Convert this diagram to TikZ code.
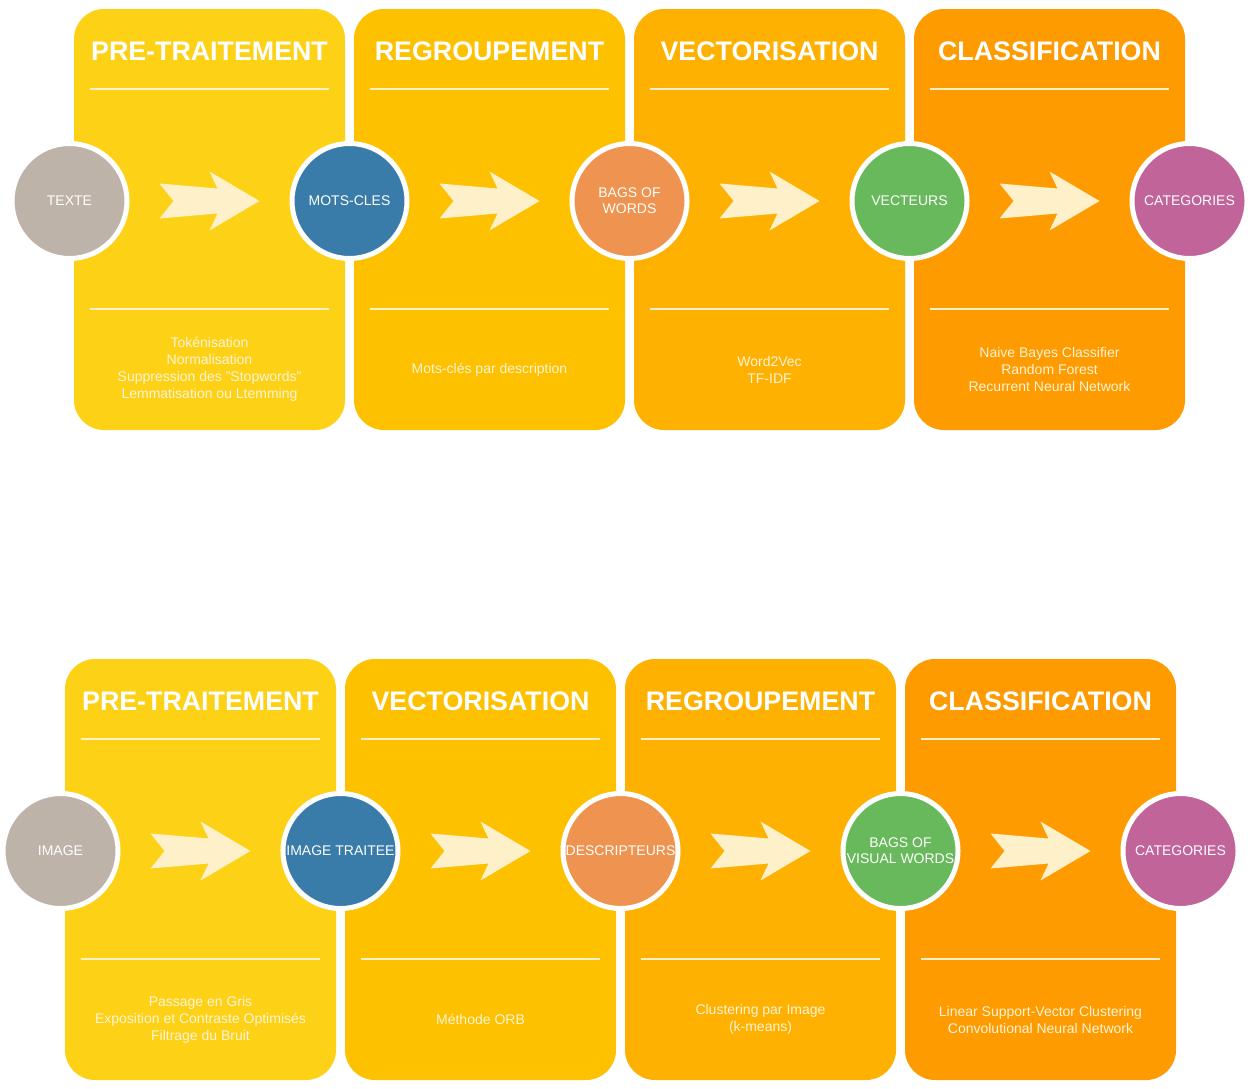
\documentclass[tikz,border=0pt]{standalone}
\usepackage{fontspec}
\setmainfont{Liberation Sans}
\usetikzlibrary{calc}
\definecolor{pA}{HTML}{FDD116}
\definecolor{pB}{HTML}{FDC100}
\definecolor{pC}{HTML}{FEB100}
\definecolor{pD}{HTML}{FE9B00}
\definecolor{cGris}{HTML}{BEB3A9}
\definecolor{cBleu}{HTML}{3A7CA9}
\definecolor{cOrange}{HTML}{EE9450}
\definecolor{cVert}{HTML}{68B95C}
\definecolor{cViolet}{HTML}{C0649A}
\definecolor{creme}{HTML}{FEF1C9}
\definecolor{texteclair}{HTML}{FFF4D8}
\begin{document}
\begin{tikzpicture}[x=1pt,y=-1pt,
  panel/.style={rectangle, rounded corners=30pt, minimum width=271pt,
    minimum height=421pt, inner sep=0pt, outer sep=0pt},
  titre/.style={text=white, font=\fontsize{26.8}{30}\selectfont\bfseries, inner sep=0pt},
  rond/.style={circle, draw=white, line width=5pt, minimum size=115pt,
    inner sep=0pt, text=white, font=\fontsize{14}{16}\selectfont, align=center},
  detail/.style={text=texteclair, font=\fontsize{14}{17}\selectfont,
    align=center, inner sep=0pt},
  trait/.style={draw=creme, line width=2pt},
  fleche/.pic={\fill[creme] (-50,-17.5) -- (-36,0) -- (-50,17.5) -- (8,12.5)
    -- (0,29.5) -- (50,0) -- (0,-29.5) -- (8,-12.5) -- cycle;}
]
\useasboundingbox (0,0) rectangle (1250,1088);

% ---------- text pipeline ----------
\node[panel, fill=pA] (h1) at (209.5,219.5) {};
\node[panel, fill=pB] (h2) at (489.5,219.5) {};
\node[panel, fill=pC] (h3) at (769.5,219.5) {};
\node[panel, fill=pD] (h4) at (1049.5,219.5) {};

\node[titre] (ht1) at (209.5,51.5) {PRE-TRAITEMENT};
\node[titre] (ht2) at (489.5,51.5) {REGROUPEMENT};
\node[titre] (ht3) at (769.5,51.5) {VECTORISATION};
\node[titre] (ht4) at (1049.5,51.5) {CLASSIFICATION};

\foreach \c in {209.5,489.5,769.5,1049.5}{
  \draw[trait] (\c-119.5,89) -- (\c+119.5,89);
  \draw[trait] (\c-119.5,309) -- (\c+119.5,309);
}

\node[detail] (hd1) at (209.5,369.5) {Tokénisation\\Normalisation\\Suppression des "Stopwords"\\Lemmatisation ou Ltemming};
\node[detail] (hd2) at (489.5,369.5) {Mots-clés par description};
\node[detail] (hd3) at (769.5,369.5) {Word2Vec\\TF-IDF};
\node[detail] (hd4) at (1049.5,369.5) {Naive Bayes Classifier\\Random Forest\\Recurrent Neural Network};

\node[rond, fill=cGris]   (a0) at (69.5,201)   {TEXTE};
\node[rond, fill=cBleu]   (a1) at (349.5,201)  {MOTS-CLES};
\node[rond, fill=cOrange] (a2) at (629.5,201)  {BAGS OF\\WORDS};
\node[rond, fill=cVert]   (a3) at (909.5,201)  {VECTEURS};
\node[rond, fill=cViolet] (a4) at (1189.5,201) {CATEGORIES};

\pic at ($(a0)!0.5!(a1)$) {fleche};
\pic at ($(a1)!0.5!(a2)$) {fleche};
\pic at ($(a2)!0.5!(a3)$) {fleche};
\pic at ($(a3)!0.5!(a4)$) {fleche};

% ---------- image pipeline ----------
\node[panel, fill=pA] (b1) at (200.5,869.5) {};
\node[panel, fill=pB] (b2) at (480.5,869.5) {};
\node[panel, fill=pC] (b3) at (760.5,869.5) {};
\node[panel, fill=pD] (b4) at (1040.5,869.5) {};

\node[titre] (bt1) at (200.5,701.5) {PRE-TRAITEMENT};
\node[titre] (bt2) at (480.5,701.5) {VECTORISATION};
\node[titre] (bt3) at (760.5,701.5) {REGROUPEMENT};
\node[titre] (bt4) at (1040.5,701.5) {CLASSIFICATION};

\foreach \c in {200.5,480.5,760.5,1040.5}{
  \draw[trait] (\c-119.5,739) -- (\c+119.5,739);
  \draw[trait] (\c-119.5,959) -- (\c+119.5,959);
}

\node[detail] (bd1) at (200.5,1019.5) {Passage en Gris\\Exposition et Contraste Optimisés\\Filtrage du Bruit};
\node[detail] (bd2) at (480.5,1019.5) {Méthode ORB};
\node[detail] (bd3) at (760.5,1019.5) {Clustering par Image\\(k-means)};
\node[detail] (bd4) at (1040.5,1019.5) {Linear Support-Vector Clustering\\Convolutional Neural Network};

\node[rond, fill=cGris]   (c0) at (60.5,851)   {IMAGE};
\node[rond, fill=cBleu]   (c1) at (340.5,851)  {IMAGE TRAITEE};
\node[rond, fill=cOrange] (c2) at (620.5,851)  {DESCRIPTEURS};
\node[rond, fill=cVert]   (c3) at (900.5,851)  {BAGS OF\\VISUAL WORDS};
\node[rond, fill=cViolet] (c4) at (1180.5,851) {CATEGORIES};

\pic at ($(c0)!0.5!(c1)$) {fleche};
\pic at ($(c1)!0.5!(c2)$) {fleche};
\pic at ($(c2)!0.5!(c3)$) {fleche};
\pic at ($(c3)!0.5!(c4)$) {fleche};
\end{tikzpicture}
\end{document}
